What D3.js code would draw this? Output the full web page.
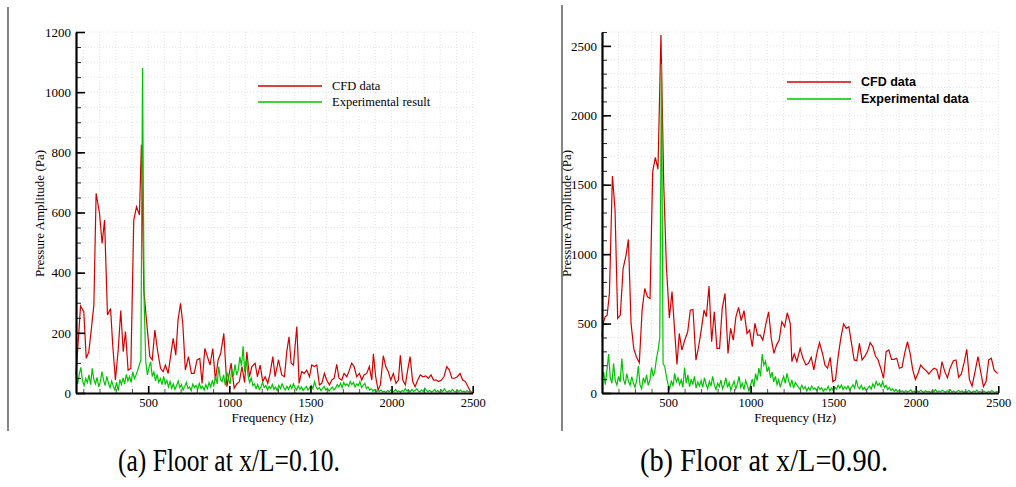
<!DOCTYPE html>
<html>
<head>
<meta charset="utf-8">
<script src="https://cdn.jsdelivr.net/npm/d3@7"></script>
<style>
  body { margin: 0; background: #fff; }
  svg { display: block; }
</style>
</head>
<body>
<div id="chart"></div>
<script>
// ---- panel (a): floor at x/L = 0.10 ----
var cfdA = [[55,60],[83,289],[103,270],[118,115],[134,137],[151,220],[165,292],[179,664],[200,597],[216,497],
  [231,575],[249,259],[268,281],[282,154],[298,43],[315,143],[331,274],[346,137],[360,204],[376,76],
  [393,82],[411,575],[428,619],[446,592],[458,825],[473,342],[493,220],[510,121],[525,110],[541,209],
  [557,143],[576,82],[592,71],[606,93],[623,65],[639,126],[654,182],[670,126],[684,243],[699,298],
  [713,232],[729,76],[748,121],[766,65],[783,65],[801,110],[818,115],[832,32],[849,148],[865,121],
  [881,93],[898,148],[914,43],[931,110],[947,132],[966,198],[985,21],[1011,99],[1030,16],[1046,30],
  [1062,38],[1078,88],[1094,35],[1108,137],[1124,54],[1139,88],[1159,99],[1173,54],[1190,93],[1206,38],
  [1221,54],[1237,32],[1251,65],[1268,121],[1282,54],[1303,110],[1323,60],[1340,54],[1354,137],[1368,187],
  [1381,99],[1395,93],[1416,221],[1430,32],[1446,71],[1461,65],[1477,76],[1494,54],[1508,93],[1524,88],
  [1539,93],[1555,27],[1570,32],[1586,65],[1600,43],[1617,27],[1631,43],[1646,49],[1662,95],[1676,49],
  [1693,43],[1707,65],[1724,54],[1740,76],[1754,99],[1769,88],[1785,54],[1802,65],[1816,43],[1830,60],
  [1847,65],[1863,88],[1878,43],[1888,130],[1902,54],[1917,10],[1931,27],[1949,124],[1964,88],[1980,71],
  [1995,43],[2011,65],[2027,32],[2042,43],[2054,125],[2069,43],[2085,27],[2099,76],[2114,121],[2130,38],
  [2145,21],[2161,43],[2177,60],[2194,54],[2210,57],[2227,49],[2243,60],[2259,43],[2276,43],[2290,38],
  [2307,43],[2323,54],[2340,88],[2356,76],[2372,49],[2389,49],[2405,54],[2422,65],[2438,43],[2455,38],
  [2471,21],[2487,5],[2500,0]];

// experimental spectrum, bins every 10 Hz starting at 55 Hz
var expStartA = 55, expStepA = 10;
var expA = [54,30,62,85,40,25,48,35,60,28, 82,45,30,52,20,38,71,42,25,55,
  33,18,40,22,10,35,8,45,28,50, 30,62,40,55,35,70,48,60,75,93,
  110,1080, 300,104,60,85,104,55,70,40,
  62,35,48,28,55,30,42,20,38,15, 30,12,25,40,18,28,10,22,35,15,
  20,8,30,18,25,12,32,15,22,10, 28,14,35,20,40,25,55,30,88,45,
  38,60,25,70,45,30,80,55,95,60, 76,120,90,155,70,110,60,35,50,25,
  30,15,28,12,20,35,18,25,10,22, 15,28,12,20,8,25,14,30,18,10,
  22,12,26,15,30,18,10,24,12,20, 8,15,22,10,18,25,14,38,20,12,
  18,8,15,22,10,16,6,14,20,10, 16,28,20,32,18,35,25,30,22,38,
  28,35,20,30,25,38,18,26,32,15, 20,10,14,6,12,4,8,5,10,3,
  6,2,8,4,10,3,6,12,4,7, 3,8,5,15,6,10,4,12,5,8,
  14,6,3,10,5,16,8,4,9,3, 6,12,4,8,2,10,5,14,6,3,
  8,4,12,6,3,9,5,10,4,6, 3,8,4,6,2];

// ---- panel (b): floor at x/L = 0.90 ----
var cfdB = [[100,405],[107,501],[119,549],[131,561],[145,717],[163,1563],[179,1318],[195,537],[211,561],[228,898],
  [244,982],[260,1106],[276,501],[292,321],[308,261],[326,218],[343,597],[359,753],[375,693],[391,681],
  [407,1594],[423,1697],[439,1611],[457,2578],[474,1500],[490,910],[508,540],[524,730],[538,480],[554,205],
  [568,429],[584,309],[601,381],[619,441],[635,597],[651,602],[669,237],[685,333],[701,453],[718,597],
  [732,549],[748,770],[764,369],[780,585],[796,321],[812,321],[828,609],[845,717],[863,285],[879,465],
  [895,381],[911,549],[927,617],[943,521],[960,593],[978,429],[994,453],[1010,333],[1026,501],[1042,417],
  [1058,417],[1074,381],[1093,501],[1109,585],[1125,393],[1141,285],[1157,345],[1173,381],[1189,513],[1206,477],
  [1222,578],[1240,502],[1250,226],[1264,281],[1280,226],[1300,322],[1317,250],[1335,202],[1351,214],[1367,257],
  [1383,166],[1401,286],[1417,363],[1436,281],[1450,202],[1466,178],[1482,257],[1498,82],[1514,94],[1530,262],
  [1546,394],[1563,497],[1579,466],[1595,478],[1611,358],[1627,238],[1643,233],[1659,358],[1675,238],[1692,266],
  [1708,298],[1724,362],[1740,334],[1756,266],[1772,238],[1788,178],[1805,106],[1821,298],[1837,310],[1853,242],
  [1869,242],[1885,250],[1901,178],[1917,185],[1934,290],[1950,370],[1966,286],[1982,166],[1998,98],[2014,142],
  [2030,202],[2046,178],[2063,161],[2079,137],[2095,161],[2111,178],[2127,170],[2143,98],[2159,226],[2176,154],
  [2192,110],[2208,178],[2228,233],[2244,238],[2260,113],[2276,137],[2293,218],[2309,315],[2325,98],[2341,50],
  [2357,142],[2377,262],[2393,154],[2410,46],[2426,82],[2442,238],[2458,250],[2474,166],[2490,146],[2500,142]];

var expStartB = 100, expStepB = 10;
var expB = [93,150,60,165,280,110,70,213,90,57, 120,80,249,100,60,140,85,55,117,70,
  40,90,194,60,30,110,75,130,55,90, 184,120,160,249,309,400,2370,213,189,120,
  60,30,90,50,141,80,110,60,95,40, 184,70,130,45,100,60,120,35,80,50,
  90,40,110,65,30,85,50,120,60,25, 70,45,95,30,60,110,40,75,20,55,
  85,30,65,120,40,70,25,90,55,15, 60,100,45,140,90,180,120,280,200,230,
  153,190,110,150,80,120,60,95,40,85, 120,70,142,90,50,94,35,75,60,40,
  25,55,30,45,15,40,20,50,28,35, 18,45,25,38,12,30,22,48,15,35,
  20,42,28,55,35,58,25,45,30,50, 22,40,60,35,94,45,30,55,25,40,
  18,35,50,28,65,40,82,55,70,45, 82,38,55,25,40,18,30,12,25,8,
  20,10,15,5,18,8,12,22,6,14, 3,15,8,20,10,5,16,8,12,4,
  18,10,25,6,14,8,20,12,5,15, 10,22,6,14,3,12,18,8,15,5,
  12,6,18,10,4,15,8,20,6,12, 5,14,8,3,12,6,18,9,4,10, 8];

var xMajor = [500, 1000, 1500, 2000, 2500];
var yMajorA = [0, 200, 400, 600, 800, 1000, 1200];
var yMajorB = [0, 500, 1000, 1500, 2000, 2500];
var legendA = ["CFD data", "Experimental result"];
var legendB = ["CFD data", "Experimental data"];
var captions = ["(a) Floor at x/L=0.10.", "(b) Floor at x/L=0.90."];

var W = 1016, H = 487;
var RED = "#d40000", GREEN = "#00c400";
var SERIF = "Liberation Serif, Times New Roman, serif";

var svg = d3.select("#chart").append("svg").attr("width", W).attr("height", H);

function panel(o) {
  var x = d3.scaleLinear().domain(o.xDom).range([o.left, o.right]);
  var y = d3.scaleLinear().domain(o.yDom).range([o.bottom, o.top]);
  var g = svg.append("g");

  var xMinor = d3.range(100, 2500, 100).filter(function(v){ return v >= o.xDom[0] && v % 500 != 0; });
  var yMinor = d3.range(0, o.yDom[1] + 1, o.yMinorStep);

  // dotted grid
  g.append("g").selectAll("line").data(xMinor.concat(xMajor)).enter().append("line")
    .attr("x1", function(d){ return x(d); }).attr("x2", function(d){ return x(d); })
    .attr("y1", o.top).attr("y2", o.bottom)
    .attr("stroke", "#dcdcdc").attr("stroke-width", 0.8).attr("stroke-dasharray", "1,2");
  g.append("g").selectAll("line").data(yMinor).enter().append("line")
    .attr("y1", function(d){ return y(d); }).attr("y2", function(d){ return y(d); })
    .attr("x1", o.left).attr("x2", o.right)
    .attr("stroke", "#dcdcdc").attr("stroke-width", 0.8).attr("stroke-dasharray", "1,2");

  var line = d3.line().x(function(d){ return x(d[0]); }).y(function(d){ return y(d[1]); });
  var expPts = o.exp.map(function(v, i){ return [o.expStart + i * o.expStep, v]; });

  g.append("path").datum(o.cfd).attr("d", line)
    .attr("fill", "none").attr("stroke", RED).attr("stroke-width", 1.2);
  g.append("path").datum(expPts).attr("d", line)
    .attr("fill", "none").attr("stroke", GREEN).attr("stroke-width", 1.2);

  // axes: minor ticks first, then major with labels
  g.append("g").attr("transform", "translate(0," + o.bottom + ")")
    .call(d3.axisBottom(x).tickValues(xMinor).tickSize(-4).tickSizeOuter(0).tickFormat(""))
    .call(function(s){ s.select(".domain").remove(); s.selectAll("line").attr("stroke", "#555"); });
  g.append("g").attr("transform", "translate(" + o.left + ",0)")
    .call(d3.axisLeft(y).tickValues(yMinor).tickSize(-5).tickSizeOuter(0).tickFormat(""))
    .call(function(s){ s.select(".domain").remove(); s.selectAll("line").attr("stroke", "#222"); });

  g.append("g").attr("transform", "translate(0," + o.bottom + ")")
    .call(d3.axisBottom(x).tickValues(xMajor).tickSize(-7).tickSizeOuter(0).tickPadding(5).tickFormat(d3.format("d")))
    .call(function(s){
      s.select(".domain").attr("stroke-width", 2.2);
      s.selectAll("line").attr("stroke-width", 1.6);
      s.selectAll("text").style("font-family", SERIF).style("font-size", "12.5px").attr("fill", "#000");
    });
  g.append("g").attr("transform", "translate(" + o.left + ",0)")
    .call(d3.axisLeft(y).tickValues(o.yMajor).tickSize(-9).tickSizeOuter(0).tickPadding(5).tickFormat(d3.format("d")))
    .call(function(s){
      s.select(".domain").attr("stroke-width", 2.2);
      s.selectAll("line").attr("stroke-width", 1.6);
      s.selectAll("text").style("font-family", SERIF).style("font-size", "13px").attr("fill", "#000");
    });

  // axis titles
  g.append("text").attr("x", x(1500) - 38).attr("y", o.bottom + 29)
    .attr("text-anchor", "middle")
    .style("font-family", SERIF).style("font-size", "13px")
    .text("Frequency (Hz)");
  g.append("text").attr("transform", "translate(" + o.yTitleX + ",213.5) rotate(-90)")
    .attr("text-anchor", "middle")
    .style("font-family", SERIF).style("font-size", "13px")
    .text("Pressure Amplitude (Pa)");

  // legend
  var lg = g.append("g");
  [RED, GREEN].forEach(function(c, i){
    lg.append("line").attr("x1", o.legX).attr("x2", o.legX + 64)
      .attr("y1", o.legY + i * o.legGap).attr("y2", o.legY + i * o.legGap)
      .attr("stroke", c).attr("stroke-width", 1.5);
    lg.append("text").attr("x", o.legX + 74).attr("y", o.legY + i * o.legGap).attr("dy", "0.35em")
      .style("font-family", o.legFont).style("font-size", o.legSize).style("font-weight", o.legWeight)
      .text(o.legend[i]);
  });

  // frame line at the left of the panel
  g.append("line").attr("x1", o.frameX).attr("x2", o.frameX).attr("y1", o.frameTop).attr("y2", 431)
    .attr("stroke", "#333").attr("stroke-width", 1.2);

  // caption
  g.append("text").attr("x", o.capX).attr("y", 471)
    .attr("textLength", o.capW).attr("lengthAdjust", "spacingAndGlyphs")
    .style("font-family", SERIF).style("font-size", "31px")
    .text(o.caption);
}

panel({
  xDom: [55, 2500], yDom: [0, 1200], left: 76, right: 472.7, top: 32, bottom: 393,
  yMajor: yMajorA, yMinorStep: 50, cfd: cfdA, exp: expA, expStart: expStartA, expStep: expStepA,
  yTitleX: 44, legX: 258, legY: 86, legGap: 16, legend: legendA,
  legFont: SERIF, legSize: "12.5px", legWeight: "normal",
  frameX: 8, frameTop: 7, capX: 118, capW: 222, caption: captions[0]
});
panel({
  xDom: [100, 2500], yDom: [0, 2600], left: 602, right: 998.3, top: 32, bottom: 393,
  yMajor: yMajorB, yMinorStep: 100, cfd: cfdB, exp: expB, expStart: expStartB, expStep: expStepB,
  yTitleX: 571, legX: 787, legY: 82, legGap: 17, legend: legendB,
  legFont: "Liberation Sans, Arial, sans-serif", legSize: "12.5px", legWeight: "bold",
  frameX: 562, frameTop: 5, capX: 640, capW: 248, caption: captions[1]
});
</script>
</body>
</html>
